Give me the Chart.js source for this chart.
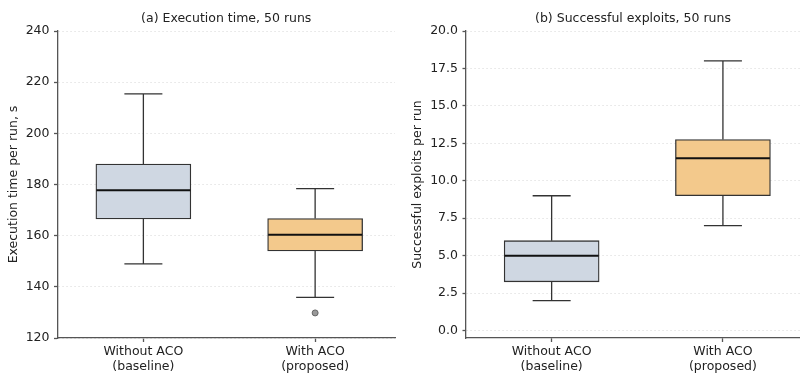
<!DOCTYPE html>
<html>
<head>
<meta charset="utf-8">
<script src="https://cdn.jsdelivr.net/npm/chart.js@4"></script>
<style>
  html, body { margin: 0; padding: 0; background: #fff; }
  #wrap { display: flex; width: 800px; height: 374px; }
  .cell { width: 400px; height: 374px; position: relative; }
</style>
</head>
<body>
<div id="wrap">
  <div class="cell"><canvas id="timeChart" width="400" height="374"></canvas></div>
  <div class="cell"><canvas id="exploitChart" width="400" height="374"></canvas></div>
</div>
<script>
// categories
const categories = [['Without ACO', '(baseline)'], ['With ACO', '(proposed)']];
const boxColors = ['#cfd7e2', '#f3c98c'];

// (a) execution time, seconds
const timeLow = [149.0, 135.9];
const timeQ1 = [166.5, 154.0];
const timeMedian = [177.8, 160.4];
const timeQ3 = [188.0, 166.7];
const timeHigh = [215.4, 178.4];
const timeOutlierCat = [1];
const timeOutlierVal = [129.8];
const timeTicks = [120, 140, 160, 180, 200, 220, 240];

// (b) successful exploits per run
const exploitLow = [2.0, 7.0];
const exploitQ1 = [3.25, 9.0];
const exploitMedian = [5.0, 11.5];
const exploitQ3 = [6.0, 12.75];
const exploitHigh = [9.0, 18.0];
const exploitTicks = [0, 2.5, 5, 7.5, 10, 12.5, 15, 17.5, 20];

const FONT = 'DejaVu Sans';
const FS = 12.5;
Chart.defaults.font.family = FONT;
Chart.defaults.color = '#222';

// whiskers, caps and medians drawn through the chart scales
const whiskerPlugin = {
  id: 'whiskers',
  afterDatasetsDraw(chart, args, opts) {
    const {ctx, scales: {x, y}} = chart;
    const capHalf = 19, boxHalf = 47;
    ctx.save();
    opts.low.forEach((lo, i) => {
      const px = x.getPixelForValue(i);
      ctx.strokeStyle = '#333';
      ctx.lineWidth = 1.3;
      ctx.beginPath();
      ctx.moveTo(px, y.getPixelForValue(opts.q3[i]));
      ctx.lineTo(px, y.getPixelForValue(opts.high[i]));
      ctx.moveTo(px, y.getPixelForValue(opts.q1[i]));
      ctx.lineTo(px, y.getPixelForValue(lo));
      ctx.moveTo(px - capHalf, y.getPixelForValue(opts.high[i]));
      ctx.lineTo(px + capHalf, y.getPixelForValue(opts.high[i]));
      ctx.moveTo(px - capHalf, y.getPixelForValue(lo));
      ctx.lineTo(px + capHalf, y.getPixelForValue(lo));
      ctx.stroke();
      ctx.strokeStyle = '#111';
      ctx.lineWidth = 2;
      ctx.beginPath();
      const my = y.getPixelForValue(opts.median[i]);
      ctx.moveTo(px - boxHalf, my);
      ctx.lineTo(px + boxHalf, my);
      ctx.stroke();
    });
    ctx.restore();
  }
};

// panel title centred over the plot area, like matplotlib's ax.set_title
const panelTitle = {
  id: 'panelTitle',
  afterDraw(chart, args, opts) {
    const {ctx, chartArea} = chart;
    ctx.save();
    ctx.font = FS + 'px ' + FONT;
    ctx.fillStyle = '#222';
    ctx.textAlign = 'center';
    ctx.textBaseline = 'middle';
    ctx.fillText(opts.text, (chartArea.left + chartArea.right) / 2, 19);
    ctx.restore();
  }
};

function makeChart(id, cfg) {
  const datasets = [{
    type: 'bar',
    data: categories.map((c, i) => ({x: i, y: [cfg.q1[i], cfg.q3[i]]})),
    backgroundColor: boxColors,
    borderColor: '#333',
    borderWidth: 1.3,
    borderSkipped: false,
    barThickness: 95,
    order: 2
  }];
  if (cfg.outCat) {
    datasets.push({
      type: 'scatter',
      data: cfg.outCat.map((c, i) => ({x: c, y: cfg.outVal[i]})),
      pointRadius: 3,
      pointBackgroundColor: '#999',
      pointBorderColor: '#666',
      pointBorderWidth: 1,
      order: 1
    });
  }
  return new Chart(document.getElementById(id), {
    type: 'bar',
    data: {datasets},
    plugins: [whiskerPlugin, panelTitle],
    options: {
      responsive: false,
      animation: false,
      layout: {padding: {top: 31, right: 0, left: 0, bottom: 0}},
      plugins: {
        legend: {display: false},
        tooltip: {enabled: false},
        title: {display: false},
        panelTitle: {text: cfg.title},
        whiskers: {low: cfg.low, q1: cfg.q1, median: cfg.median, q3: cfg.q3, high: cfg.high}
      },
      scales: {
        x: {
          type: 'linear',
          min: -0.5,
          max: cfg.xMax,
          offset: false,
          afterBuildTicks: s => { s.ticks = categories.map((c, i) => ({value: i})); },
          afterFit: s => { s.height = 36; },
          ticks: {
            callback: v => categories[v],
            font: {family: FONT, size: FS},
            color: '#222',
            padding: 2,
            maxRotation: 0,
            autoSkip: false
          },
          grid: {offset: false, drawOnChartArea: false, drawTicks: true, tickLength: 4, tickColor: '#555', tickWidth: 1.3},
          border: {display: true, color: '#555', width: 1.3}
        },
        y: {
          min: cfg.yMin,
          max: cfg.yMax,
          afterBuildTicks: s => { s.ticks = cfg.ticks.map(v => ({value: v})); },
          afterFit: s => { s.width = cfg.yWidth; },
          ticks: {
            callback: v => cfg.fmt(v),
            font: {family: FONT, size: FS},
            color: '#222',
            padding: 4.5
          },
          title: {
            display: true,
            text: cfg.yTitle,
            color: '#222',
            font: {family: FONT, size: FS},
            padding: {top: cfg.yTitlePad, bottom: 0}
          },
          grid: {
            color: '#dcdcdc',
            lineWidth: 0.8,
            tickColor: '#555',
            tickLength: 3.5,
            tickBorderDash: [],
            tickWidth: 1.3
          },
          border: {display: true, color: '#555', width: 1.3, dash: [1.5, 2.5]}
        }
      }
    }
  });
}

makeChart('timeChart', {
  title: '(a) Execution time, 50 runs',
  yTitle: 'Execution time per run, s',
  low: timeLow, q1: timeQ1, median: timeMedian, q3: timeQ3, high: timeHigh,
  outCat: timeOutlierCat, outVal: timeOutlierVal,
  ticks: timeTicks, yMin: 120, yMax: 240, fmt: v => String(v),
  yWidth: 57.5, yTitlePad: 6.5, xMax: 1.465
});

makeChart('exploitChart', {
  title: '(b) Successful exploits, 50 runs',
  yTitle: 'Successful exploits per run',
  low: exploitLow, q1: exploitQ1, median: exploitMedian, q3: exploitQ3, high: exploitHigh,
  ticks: exploitTicks, yMin: -0.5, yMax: 20, fmt: v => v.toFixed(1),
  yWidth: 66, yTitlePad: 10.5, xMax: 1.45
});
</script>
</body>
</html>
